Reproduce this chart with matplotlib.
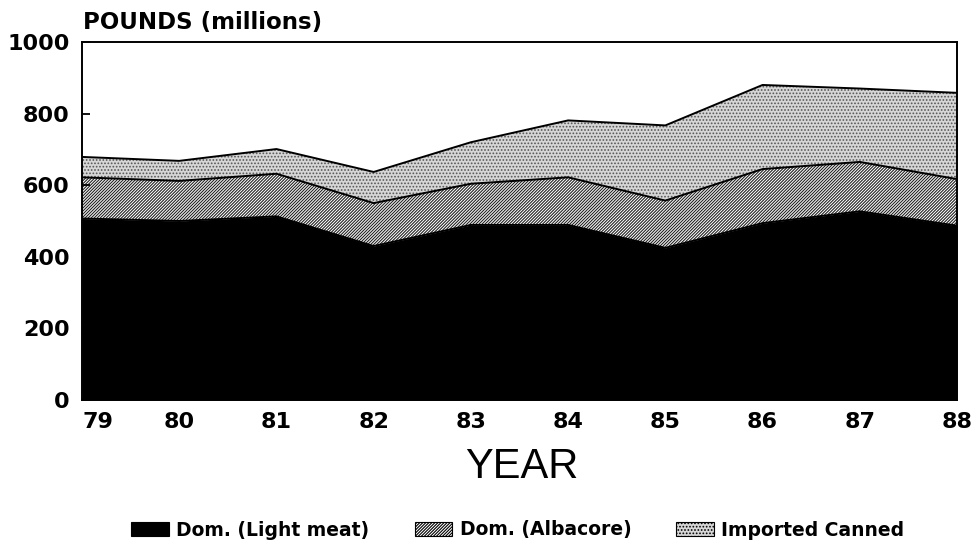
"""
U.S. canned tuna supply 1979-88, stacked area chart (scanned report style).
"""
import matplotlib
matplotlib.use("Agg")
import matplotlib.pyplot as plt
import matplotlib.patches as mpatches
import numpy as np

plt.rcParams["font.family"] = ["DejaVu Sans"]
plt.rcParams["hatch.linewidth"] = 0.8

years = [79, 80, 81, 82, 83, 84, 85, 86, 87, 88]
light_meat = [507, 500, 513, 430, 489, 489, 425, 494, 527, 487]
albacore = [115, 112, 119, 120, 115, 133, 132, 151, 138, 130]
imported = [57, 56, 69, 87, 116, 159, 210, 235, 205, 241]

series_names = ["Dom. (Light meat)", "Dom. (Albacore)", "Imported Canned"]
y_ticks = [0, 200, 400, 600, 800, 1000]

# fill styles: (face, hatch, hatch colour)
STYLES = [
    ("black", None, "black"),
    ("white", "/" * 11, "#222222"),
    ("#d6d6d6", ".....", "#555555"),
]

fig = plt.figure(figsize=(9.79, 5.5), dpi=100)
fig.patch.set_facecolor("white")
# axes box: x 82..957 px, y 42..400 px
ax = fig.add_axes([82 / 979, 1 - 400 / 550, 875 / 979, 358 / 550])

x = np.array(years, dtype=float)
layers = [np.array(light_meat), np.array(albacore), np.array(imported)]
base = np.zeros_like(x)
for vals, (face, hatch, hc) in zip(layers, STYLES):
    top = base + vals
    ax.fill_between(x, base, top, facecolor=face, hatch=hatch,
                    edgecolor=hc, linewidth=0)
    ax.plot(x, top, color="black", lw=1.4)
    base = top

ax.set_xlim(79, 88)
ax.set_ylim(0, 1000)
ax.set_xticks(years)
ax.set_xticklabels([str(y) for y in years])
ax.set_yticks(y_ticks)
ax.tick_params(axis="y", direction="in", length=6, width=1.3, pad=9,
               labelsize=16)
ax.tick_params(axis="x", length=0, pad=9, labelsize=16)
for lab in ax.get_xticklabels() + ax.get_yticklabels():
    lab.set_fontweight("bold")
# first year label sits clear of the "0"
ax.get_xticklabels()[0].set_horizontalalignment("left")
for sp in ax.spines.values():
    sp.set_linewidth(1.4)

fig.text(83 / 979, 1 - 22 / 550, "POUNDS (millions)", fontsize=16.5,
         fontweight="bold", va="center", ha="left")
fig.text(522 / 979, 1 - 467 / 550, "YEAR", fontsize=30, va="center",
         ha="center", family="Liberation Sans")

handles = []
for name, (face, hatch, hc) in zip(series_names, STYLES):
    handles.append(mpatches.Patch(facecolor=face, hatch=hatch,
                                  edgecolor="black" if hatch else face,
                                  linewidth=0.8, label=name))
leg = fig.legend(handles=handles, loc="center",
                 bbox_to_anchor=(518 / 979, 1 - 530 / 550),
                 ncol=3, frameon=False, handlelength=2.0, handleheight=0.85,
                 handletextpad=0.4, columnspacing=2.4,
                 prop={"weight": "bold", "size": 13.5})

fig.savefig("out.png", dpi=100, facecolor="white")
